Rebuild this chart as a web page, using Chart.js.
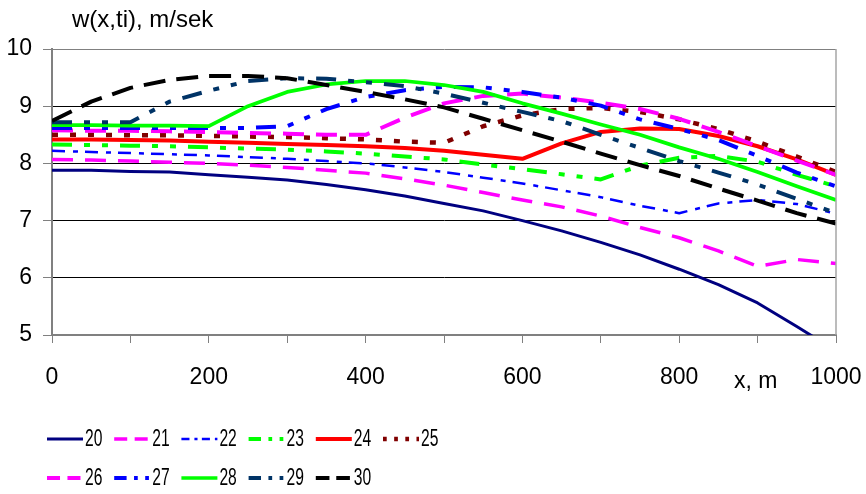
<!DOCTYPE html>
<html>
<head>
<meta charset="utf-8">
<script src="https://cdn.jsdelivr.net/npm/chart.js@4.4.1/dist/chart.umd.min.js"></script>
<style>
  html, body { margin: 0; padding: 0; background: #fff; }
  #wrap { width: 866px; height: 494px; }
</style>
</head>
<body>
<div id="wrap"><canvas id="myChart" width="866" height="494"></canvas></div>
<script>
// x positions along the channel, m
const xPositions = [0, 50, 100, 150, 200, 250, 300, 350, 400, 450, 500, 550, 600, 650, 700, 750, 800, 850, 900, 950, 1000];
const seriesNames = ["20", "21", "22", "23", "24", "25", "26", "27", "28", "29", "30"];
const xTickLabels = [0, 200, 400, 600, 800, 1000];

// w(x, ti), m/sek
const w20 = [7.88, 7.88, 7.86, 7.85, 7.80, 7.76, 7.71, 7.63, 7.54, 7.43, 7.30, 7.17, 7.00, 6.82, 6.62, 6.40, 6.15, 5.88, 5.56, 5.15, 4.72];
const w21 = [8.07, 8.06, 8.04, 8.02, 8.00, 7.97, 7.93, 7.88, 7.83, 7.73, 7.62, 7.49, 7.36, 7.24, 7.08, 6.88, 6.70, 6.47, 6.20, 6.32, 6.25];
const w22 = [8.22, 8.20, 8.18, 8.16, 8.14, 8.11, 8.08, 8.04, 8.00, 7.93, 7.85, 7.75, 7.65, 7.53, 7.41, 7.26, 7.13, 7.30, 7.36, 7.29, 7.12];
const w23 = [8.33, 8.32, 8.31, 8.30, 8.28, 8.26, 8.24, 8.21, 8.17, 8.12, 8.07, 7.98, 7.90, 7.81, 7.72, 7.96, 8.10, 8.13, 8.03, 7.80, 7.60];
const w24 = [8.42, 8.42, 8.41, 8.40, 8.38, 8.36, 8.34, 8.32, 8.30, 8.27, 8.22, 8.15, 8.08, 8.35, 8.55, 8.61, 8.60, 8.48, 8.30, 8.07, 7.80];
const w25 = [8.50, 8.50, 8.49, 8.49, 8.48, 8.47, 8.46, 8.44, 8.42, 8.38, 8.36, 8.65, 8.84, 8.95, 8.97, 8.90, 8.77, 8.60, 8.38, 8.12, 7.85];
const w26 = [8.58, 8.57, 8.57, 8.56, 8.55, 8.53, 8.52, 8.50, 8.50, 8.80, 9.05, 9.18, 9.22, 9.15, 9.06, 8.95, 8.78, 8.55, 8.30, 8.05, 7.80];
const w27 = [8.62, 8.62, 8.62, 8.62, 8.62, 8.62, 8.65, 8.95, 9.16, 9.28, 9.34, 9.33, 9.25, 9.15, 9.01, 8.77, 8.60, 8.41, 8.13, 7.84, 7.60];
const w28 = [8.67, 8.67, 8.66, 8.66, 8.65, 9.00, 9.25, 9.38, 9.44, 9.44, 9.37, 9.25, 9.05, 8.87, 8.68, 8.50, 8.28, 8.08, 7.85, 7.60, 7.36];
const w29 = [8.72, 8.72, 8.72, 9.08, 9.27, 9.44, 9.49, 9.48, 9.42, 9.35, 9.22, 9.06, 8.90, 8.74, 8.50, 8.27, 8.04, 7.84, 7.63, 7.38, 7.13];
const w30 = [8.74, 9.08, 9.32, 9.46, 9.53, 9.53, 9.49, 9.37, 9.25, 9.12, 8.98, 8.78, 8.58, 8.38, 8.17, 7.97, 7.78, 7.56, 7.35, 7.13, 6.95];
const seriesValues = [w20, w21, w22, w23, w24, w25, w26, w27, w28, w29, w30];

// line looks, same order as the series
const lineColors = ["#000080", "#FF00FF", "#0000FF", "#00FF00", "#FF0000", "#800000", "#FF00FF", "#0000FF", "#00FF00", "#003366", "#000000"];
const lineWidths = [3, 3.5, 2.5, 4, 4, 4.5, 4, 4, 3.7, 4, 4];
const lineDashes = [[], [21, 12], [13, 8, 5, 7], [20, 12, 6, 12, 6, 12], [], [6, 12], [21, 12], [20, 12, 6, 12, 6, 12], [], [20, 12, 6, 12, 6, 12], [22, 11]];

const FONT = '"Liberation Sans", Arial, sans-serif';
Chart.defaults.font.family = FONT;

// excel style legend (two rows, left aligned), title and axis name
const sheetDecor = {
    id: 'sheetDecor',
    afterDraw(chart) {
        const ctx = chart.ctx;
        const area = chart.chartArea;
        ctx.save();
        // right border of plot area
        ctx.strokeStyle = '#a6a6a6';
        ctx.lineWidth = 1.5;
        ctx.beginPath();
        ctx.moveTo(area.right, area.top);
        ctx.lineTo(area.right, area.bottom);
        ctx.stroke();

        ctx.fillStyle = '#000';
        ctx.font = '24px ' + FONT;
        ctx.textBaseline = 'alphabetic';
        ctx.fillText('w(x,ti), m/sek', 72, 27);
        ctx.font = '23px ' + FONT;
        ctx.fillText('x, m', 734, 388);

        chart.data.datasets.forEach((ds, i) => {
            const row = i < 6 ? 0 : 1;
            const col = row === 0 ? i : i - 6;
            const x = 47 + col * 67.2;
            const y = row === 0 ? 439 : 478;
            ctx.save();
            ctx.strokeStyle = ds.borderColor;
            ctx.lineWidth = ds.borderWidth;
            ctx.setLineDash(ds.borderDash.map(v => v * 0.62));
            ctx.beginPath();
            ctx.moveTo(x, y);
            ctx.lineTo(x + 36, y);
            ctx.stroke();
            ctx.setLineDash([]);
            ctx.fillStyle = '#000';
            ctx.font = '23px ' + FONT;
            ctx.textBaseline = 'middle';
            ctx.translate(x + 38, y + 1);
            ctx.scale(0.68, 1);
            ctx.fillText(ds.label, 0, 0);
            ctx.restore();
        });
        ctx.restore();
    }
};

const ctx = document.getElementById("myChart");
new Chart(ctx, {
    type: "line",
    data: {
        datasets: seriesNames.map((name, i) => ({
            label: name,
            data: xPositions.map((x, j) => ({ x: x, y: seriesValues[i][j] })),
            borderColor: lineColors[i],
            backgroundColor: lineColors[i],
            borderWidth: lineWidths[i],
            borderDash: lineDashes[i],
            borderCapStyle: 'butt',
            borderJoinStyle: 'round',
            pointRadius: 0,
            tension: 0,
            fill: false,
            order: seriesNames.length - i
        }))
    },
    options: {
        responsive: false,
        animation: false,
        layout: { padding: { top: 49, right: 30, bottom: 94, left: 0 } },
        plugins: {
            legend: { display: false },
            title: { display: false },
            tooltip: { enabled: false }
        },
        scales: {
            x: {
                type: 'linear',
                min: 0,
                max: 1000,
                ticks: {
                    stepSize: 100,
                    autoSkip: false,
                    maxRotation: 0,
                    color: '#000',
                    font: { size: 23 },
                    padding: 21,
                    callback: v => xTickLabels.includes(v) ? String(v) : ''
                },
                grid: { drawOnChartArea: false, drawTicks: true, tickLength: 8, tickColor: '#808080' },
                border: { color: '#808080', width: 2 },
                afterFit(scale) {
                    scale.height = 65;
                    scale.paddingLeft = 0;
                    scale.paddingRight = 0;
                }
            },
            y: {
                min: 5,
                max: 10,
                ticks: { stepSize: 1, color: '#000', font: { size: 23 }, padding: 11 },
                grid: {
                    color: c => (c.tick && c.tick.value === 10) ? '#808080' : '#000',
                    tickColor: '#808080',
                    tickLength: 9,
                    lineWidth: 1
                },
                border: { color: '#808080', width: 2 },
                afterFit(scale) { scale.width = 52; }
            }
        }
    },
    plugins: [sheetDecor]
});
</script>
</body>
</html>
